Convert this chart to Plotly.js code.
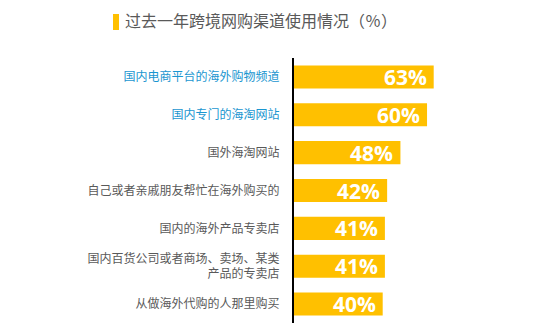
<!DOCTYPE html>
<html>
<head>
<meta charset="utf-8">
<script src="https://cdn.plot.ly/plotly-3.0.1.min.js"></script>
<style>html,body{margin:0;padding:0;background:#fff;}#chart{width:550px;height:330px;}</style>
</head>
<body>
<div id="chart"></div>
<script>
const categories = [
  "国内电商平台的海外购物频道",
  "国内专门的海淘网站",
  "国外海淘网站",
  "自己或者亲戚朋友帮忙在海外购买的",
  "国内的海外产品专卖店",
  "国内百货公司或者商场、卖场、某类<br>产品的专卖店",
  "从做海外代购的人那里购买"
];
const values = [63, 60, 48, 42, 41, 41, 40];
const highlighted = [true, true, false, false, false, false, false];
const titleText = "过去一年跨境网购渠道使用情况（％）";

const BLUE = "#1a96d0", GRAY = "#595959", GOLD = "#FFC000";
const tickText = categories.map((c, i) =>
  '<span style="color:' + (highlighted[i] ? BLUE : GRAY) + '">' + c + '</span>');

const L = 294, R = 103, W = 550, T = 58, B = 7, H = 330;
const plotW = W - L - R;

const trace = {
  type: 'bar',
  orientation: 'h',
  x: values,
  y: categories,
  marker: {color: GOLD},
  hoverinfo: 'none'
};

const annotations = values.map((v, i) => ({
  x: v, y: categories[i], xref: 'x', yref: 'y',
  text: v + '%', showarrow: false, xanchor: 'right', yanchor: 'middle',
  xshift: -5, yshift: 0,
  font: {family: 'Open Sans, sans-serif', size: 21, color: '#ffffff', weight: 'bold'}
}));

const layout = {
  width: W, height: H,
  margin: {l: L, r: R, t: T, b: B, pad: 0},
  paper_bgcolor: '#ffffff', plot_bgcolor: '#ffffff',
  showlegend: false,
  bargap: 0.39,
  font: {family: '"Noto Sans CJK SC", sans-serif', color: GRAY},
  title: {
    text: titleText,
    font: {family: '"Noto Sans CJK SC", sans-serif', size: 16, color: GRAY},
    xref: 'container', yref: 'container',
    x: 125 / W, xanchor: 'left',
    y: 1 - 21 / H, yanchor: 'middle'
  },
  xaxis: {range: [0, 69], showgrid: false, zeroline: false, showticklabels: false, showline: false, fixedrange: true},
  yaxis: {
    autorange: 'reversed',
    tickmode: 'array', tickvals: categories, ticktext: tickText,
    tickfont: {family: '"Noto Sans CJK SC", sans-serif', size: 12, color: GRAY},
    showline: true, linecolor: '#000000', linewidth: 2,
    ticks: '', ticklabelstandoff: 10,
    showgrid: false, zeroline: false, fixedrange: true
  },
  shapes: [{
    type: 'rect', xref: 'paper', yref: 'paper',
    x0: (113 - L) / plotW, x1: (119 - L) / plotW,
    y0: (H - B - 30) / (H - T - B), y1: (H - B - 14) / (H - T - B),
    fillcolor: GOLD, line: {width: 0}
  }],
  annotations: annotations
};

Plotly.newPlot('chart', [trace], layout, {displayModeBar: false, staticPlot: true});
</script>
</body>
</html>
